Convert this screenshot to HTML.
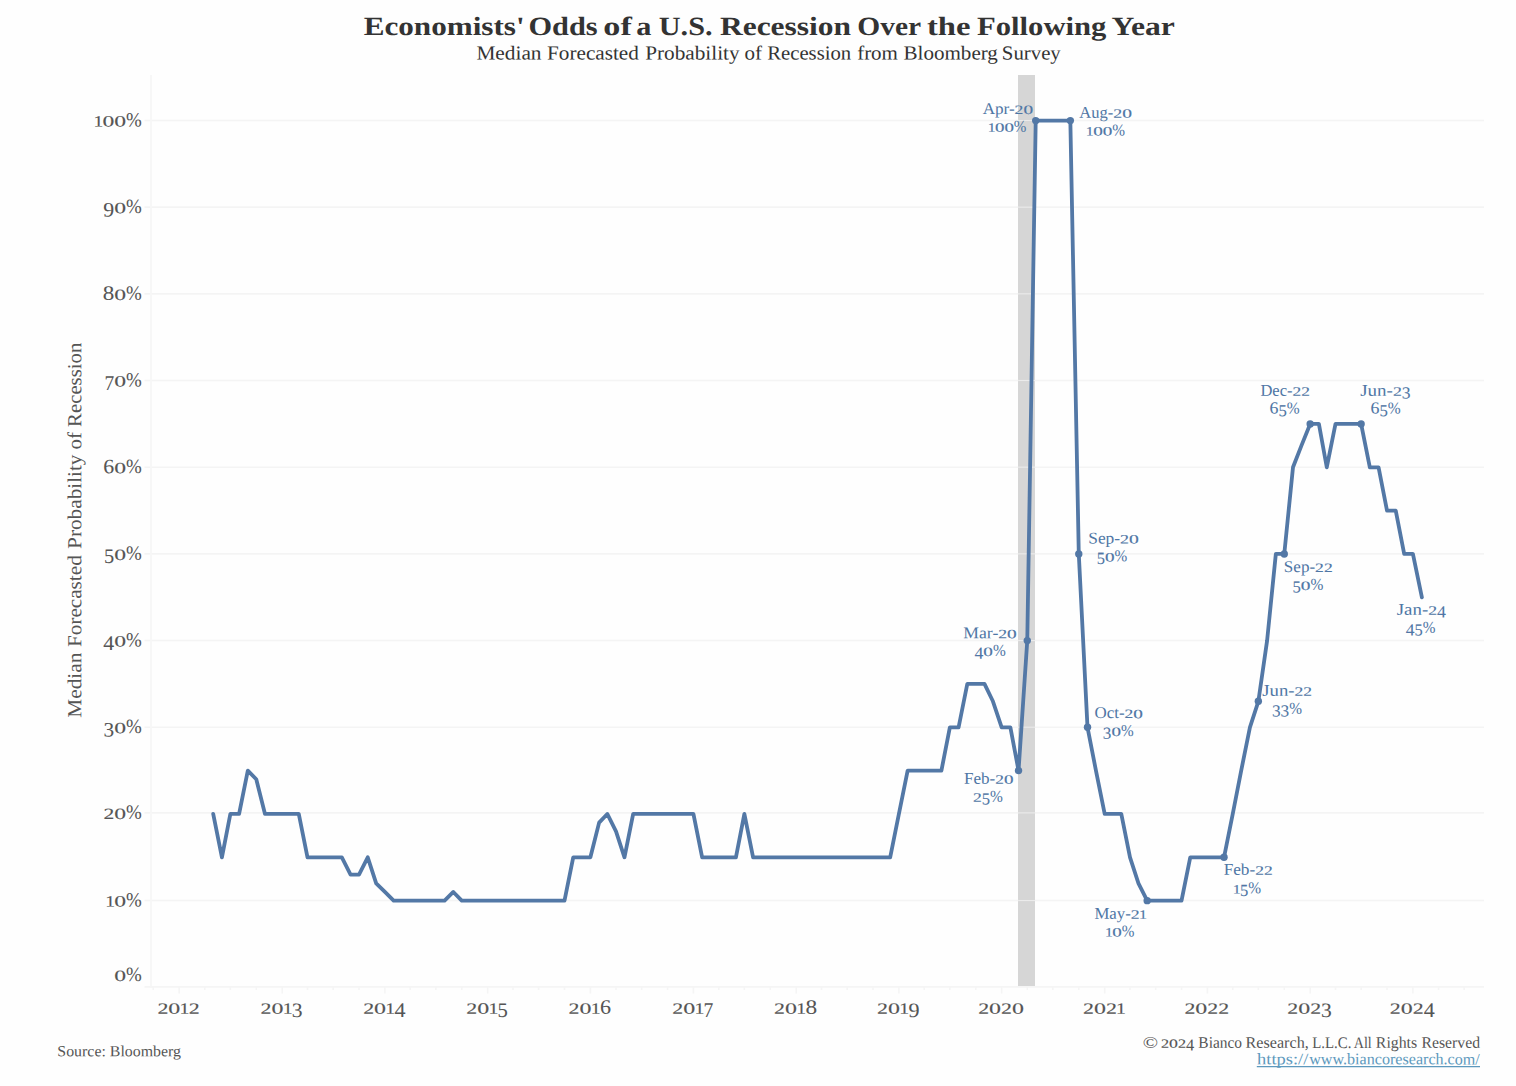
<!DOCTYPE html>
<html><head><meta charset="utf-8"><title>Economists' Odds of a U.S. Recession</title>
<style>html,body{margin:0;padding:0;background:#fefefe;}svg{display:block;}text{font-family:"Liberation Serif",serif;white-space:pre;}</style></head>
<body>
<svg width="1516" height="1086" viewBox="0 0 1516 1086" font-family="Liberation Serif, serif">
<rect width="1516" height="1086" fill="#fefefe"/>
<rect x="1018.0" y="75" width="17.0" height="912" fill="#d6d6d6"/>
<line x1="144.5" x2="1018.2" y1="900.53" y2="900.53" stroke="#f4f4f4" stroke-width="1.6"/>
<line x1="1035" x2="1484" y1="900.53" y2="900.53" stroke="#f4f4f4" stroke-width="1.6"/>
<line x1="1018.2" x2="1035" y1="900.53" y2="900.53" stroke="#ebebeb" stroke-width="1.1"/>
<line x1="144.5" x2="1018.2" y1="812.90" y2="812.90" stroke="#f4f4f4" stroke-width="1.6"/>
<line x1="1035" x2="1484" y1="812.90" y2="812.90" stroke="#f4f4f4" stroke-width="1.6"/>
<line x1="1018.2" x2="1035" y1="812.90" y2="812.90" stroke="#ebebeb" stroke-width="1.1"/>
<line x1="144.5" x2="1018.2" y1="727.19" y2="727.19" stroke="#f4f4f4" stroke-width="1.6"/>
<line x1="1035" x2="1484" y1="727.19" y2="727.19" stroke="#f4f4f4" stroke-width="1.6"/>
<line x1="1018.2" x2="1035" y1="727.19" y2="727.19" stroke="#ebebeb" stroke-width="1.1"/>
<line x1="144.5" x2="1018.2" y1="640.52" y2="640.52" stroke="#f4f4f4" stroke-width="1.6"/>
<line x1="1035" x2="1484" y1="640.52" y2="640.52" stroke="#f4f4f4" stroke-width="1.6"/>
<line x1="1018.2" x2="1035" y1="640.52" y2="640.52" stroke="#ebebeb" stroke-width="1.1"/>
<line x1="144.5" x2="1018.2" y1="553.85" y2="553.85" stroke="#f4f4f4" stroke-width="1.6"/>
<line x1="1035" x2="1484" y1="553.85" y2="553.85" stroke="#f4f4f4" stroke-width="1.6"/>
<line x1="1018.2" x2="1035" y1="553.85" y2="553.85" stroke="#ebebeb" stroke-width="1.1"/>
<line x1="144.5" x2="1018.2" y1="467.18" y2="467.18" stroke="#f4f4f4" stroke-width="1.6"/>
<line x1="1035" x2="1484" y1="467.18" y2="467.18" stroke="#f4f4f4" stroke-width="1.6"/>
<line x1="1018.2" x2="1035" y1="467.18" y2="467.18" stroke="#ebebeb" stroke-width="1.1"/>
<line x1="144.5" x2="1018.2" y1="380.51" y2="380.51" stroke="#f4f4f4" stroke-width="1.6"/>
<line x1="1035" x2="1484" y1="380.51" y2="380.51" stroke="#f4f4f4" stroke-width="1.6"/>
<line x1="1018.2" x2="1035" y1="380.51" y2="380.51" stroke="#ebebeb" stroke-width="1.1"/>
<line x1="144.5" x2="1018.2" y1="293.84" y2="293.84" stroke="#f4f4f4" stroke-width="1.6"/>
<line x1="1035" x2="1484" y1="293.84" y2="293.84" stroke="#f4f4f4" stroke-width="1.6"/>
<line x1="1018.2" x2="1035" y1="293.84" y2="293.84" stroke="#ebebeb" stroke-width="1.1"/>
<line x1="144.5" x2="1018.2" y1="207.17" y2="207.17" stroke="#f4f4f4" stroke-width="1.6"/>
<line x1="1035" x2="1484" y1="207.17" y2="207.17" stroke="#f4f4f4" stroke-width="1.6"/>
<line x1="1018.2" x2="1035" y1="207.17" y2="207.17" stroke="#ebebeb" stroke-width="1.1"/>
<line x1="144.5" x2="1018.2" y1="120.50" y2="120.50" stroke="#f4f4f4" stroke-width="1.6"/>
<line x1="1035" x2="1484" y1="120.50" y2="120.50" stroke="#f4f4f4" stroke-width="1.6"/>
<line x1="1018.2" x2="1035" y1="120.50" y2="120.50" stroke="#ebebeb" stroke-width="1.1"/>
<line x1="151" x2="151" y1="75" y2="987.5" stroke="#f7f7f7" stroke-width="1.8"/>
<line x1="144.5" x2="1484" y1="986.8" y2="986.8" stroke="#f5f5f5" stroke-width="1.8"/>
<line x1="153.24" x2="153.24" y1="987" y2="990" stroke="#f5f5f5" stroke-width="1.6"/>
<line x1="179.14" x2="179.14" y1="987" y2="993.5" stroke="#f5f5f5" stroke-width="1.6"/>
<line x1="204.76" x2="204.76" y1="987" y2="990" stroke="#f5f5f5" stroke-width="1.6"/>
<line x1="230.37" x2="230.37" y1="987" y2="990" stroke="#f5f5f5" stroke-width="1.6"/>
<line x1="256.27" x2="256.27" y1="987" y2="990" stroke="#f5f5f5" stroke-width="1.6"/>
<line x1="282.17" x2="282.17" y1="987" y2="993.5" stroke="#f5f5f5" stroke-width="1.6"/>
<line x1="307.50" x2="307.50" y1="987" y2="990" stroke="#f5f5f5" stroke-width="1.6"/>
<line x1="333.12" x2="333.12" y1="987" y2="990" stroke="#f5f5f5" stroke-width="1.6"/>
<line x1="359.01" x2="359.01" y1="987" y2="990" stroke="#f5f5f5" stroke-width="1.6"/>
<line x1="384.91" x2="384.91" y1="987" y2="993.5" stroke="#f5f5f5" stroke-width="1.6"/>
<line x1="410.24" x2="410.24" y1="987" y2="990" stroke="#f5f5f5" stroke-width="1.6"/>
<line x1="435.86" x2="435.86" y1="987" y2="990" stroke="#f5f5f5" stroke-width="1.6"/>
<line x1="461.76" x2="461.76" y1="987" y2="990" stroke="#f5f5f5" stroke-width="1.6"/>
<line x1="487.65" x2="487.65" y1="987" y2="993.5" stroke="#f5f5f5" stroke-width="1.6"/>
<line x1="512.99" x2="512.99" y1="987" y2="990" stroke="#f5f5f5" stroke-width="1.6"/>
<line x1="538.60" x2="538.60" y1="987" y2="990" stroke="#f5f5f5" stroke-width="1.6"/>
<line x1="564.50" x2="564.50" y1="987" y2="990" stroke="#f5f5f5" stroke-width="1.6"/>
<line x1="590.40" x2="590.40" y1="987" y2="993.5" stroke="#f5f5f5" stroke-width="1.6"/>
<line x1="616.01" x2="616.01" y1="987" y2="990" stroke="#f5f5f5" stroke-width="1.6"/>
<line x1="641.63" x2="641.63" y1="987" y2="990" stroke="#f5f5f5" stroke-width="1.6"/>
<line x1="667.53" x2="667.53" y1="987" y2="990" stroke="#f5f5f5" stroke-width="1.6"/>
<line x1="693.42" x2="693.42" y1="987" y2="993.5" stroke="#f5f5f5" stroke-width="1.6"/>
<line x1="718.76" x2="718.76" y1="987" y2="990" stroke="#f5f5f5" stroke-width="1.6"/>
<line x1="744.37" x2="744.37" y1="987" y2="990" stroke="#f5f5f5" stroke-width="1.6"/>
<line x1="770.27" x2="770.27" y1="987" y2="990" stroke="#f5f5f5" stroke-width="1.6"/>
<line x1="796.17" x2="796.17" y1="987" y2="993.5" stroke="#f5f5f5" stroke-width="1.6"/>
<line x1="821.50" x2="821.50" y1="987" y2="990" stroke="#f5f5f5" stroke-width="1.6"/>
<line x1="847.12" x2="847.12" y1="987" y2="990" stroke="#f5f5f5" stroke-width="1.6"/>
<line x1="873.01" x2="873.01" y1="987" y2="990" stroke="#f5f5f5" stroke-width="1.6"/>
<line x1="898.91" x2="898.91" y1="987" y2="993.5" stroke="#f5f5f5" stroke-width="1.6"/>
<line x1="924.24" x2="924.24" y1="987" y2="990" stroke="#f5f5f5" stroke-width="1.6"/>
<line x1="949.86" x2="949.86" y1="987" y2="990" stroke="#f5f5f5" stroke-width="1.6"/>
<line x1="975.76" x2="975.76" y1="987" y2="990" stroke="#f5f5f5" stroke-width="1.6"/>
<line x1="1001.65" x2="1001.65" y1="987" y2="993.5" stroke="#f5f5f5" stroke-width="1.6"/>
<line x1="1027.27" x2="1027.27" y1="987" y2="990" stroke="#f5f5f5" stroke-width="1.6"/>
<line x1="1052.88" x2="1052.88" y1="987" y2="990" stroke="#f5f5f5" stroke-width="1.6"/>
<line x1="1078.78" x2="1078.78" y1="987" y2="990" stroke="#f5f5f5" stroke-width="1.6"/>
<line x1="1104.68" x2="1104.68" y1="987" y2="993.5" stroke="#f5f5f5" stroke-width="1.6"/>
<line x1="1130.01" x2="1130.01" y1="987" y2="990" stroke="#f5f5f5" stroke-width="1.6"/>
<line x1="1155.63" x2="1155.63" y1="987" y2="990" stroke="#f5f5f5" stroke-width="1.6"/>
<line x1="1181.53" x2="1181.53" y1="987" y2="990" stroke="#f5f5f5" stroke-width="1.6"/>
<line x1="1207.42" x2="1207.42" y1="987" y2="993.5" stroke="#f5f5f5" stroke-width="1.6"/>
<line x1="1232.76" x2="1232.76" y1="987" y2="990" stroke="#f5f5f5" stroke-width="1.6"/>
<line x1="1258.37" x2="1258.37" y1="987" y2="990" stroke="#f5f5f5" stroke-width="1.6"/>
<line x1="1284.27" x2="1284.27" y1="987" y2="990" stroke="#f5f5f5" stroke-width="1.6"/>
<line x1="1310.17" x2="1310.17" y1="987" y2="993.5" stroke="#f5f5f5" stroke-width="1.6"/>
<line x1="1335.50" x2="1335.50" y1="987" y2="990" stroke="#f5f5f5" stroke-width="1.6"/>
<line x1="1361.12" x2="1361.12" y1="987" y2="990" stroke="#f5f5f5" stroke-width="1.6"/>
<line x1="1387.01" x2="1387.01" y1="987" y2="990" stroke="#f5f5f5" stroke-width="1.6"/>
<line x1="1412.91" x2="1412.91" y1="987" y2="993.5" stroke="#f5f5f5" stroke-width="1.6"/>
<line x1="1438.53" x2="1438.53" y1="987" y2="990" stroke="#f5f5f5" stroke-width="1.6"/>
<line x1="1464.14" x2="1464.14" y1="987" y2="990" stroke="#f5f5f5" stroke-width="1.6"/>
<path d="M213.20,813.96 L221.93,857.29 L230.37,813.96 L239.10,813.96 L247.82,770.62 L256.27,779.29 L264.99,813.96 L273.44,813.96 L282.17,813.96 L290.89,813.96 L298.77,813.96 L307.50,857.29 L315.94,857.29 L324.67,857.29 L333.12,857.29 L341.84,857.29 L350.57,874.63 L359.01,874.63 L367.74,857.29 L376.18,883.30 L384.91,891.96 L393.64,900.63 L401.52,900.63 L410.24,900.63 L418.69,900.63 L427.41,900.63 L435.86,900.63 L444.59,900.63 L453.31,891.96 L461.76,900.63 L470.48,900.63 L478.93,900.63 L487.65,900.63 L496.38,900.63 L504.26,900.63 L512.99,900.63 L521.43,900.63 L530.16,900.63 L538.60,900.63 L547.33,900.63 L556.06,900.63 L564.50,900.63 L573.23,857.29 L581.67,857.29 L590.40,857.29 L599.12,822.63 L607.29,813.96 L616.01,831.29 L624.46,857.29 L633.18,813.96 L641.63,813.96 L650.35,813.96 L659.08,813.96 L667.53,813.96 L676.25,813.96 L684.70,813.96 L693.42,813.96 L702.15,857.29 L710.03,857.29 L718.76,857.29 L727.20,857.29 L735.93,857.29 L744.37,813.96 L753.10,857.29 L761.82,857.29 L770.27,857.29 L779.00,857.29 L787.44,857.29 L796.17,857.29 L804.89,857.29 L812.77,857.29 L821.50,857.29 L829.94,857.29 L838.67,857.29 L847.12,857.29 L855.84,857.29 L864.57,857.29 L873.01,857.29 L881.74,857.29 L890.18,857.29 L898.91,813.96 L907.64,770.62 L915.52,770.62 L924.24,770.62 L932.69,770.62 L941.41,770.62 L949.86,727.29 L958.59,727.29 L967.31,683.95 L975.76,683.95 L984.48,683.95 L992.93,701.29 L1001.65,727.29 L1010.38,727.29 L1018.54,770.62 L1027.27,640.62 L1035.71,120.60 L1044.44,120.60 L1052.88,120.60 L1061.61,120.60 L1070.34,120.60 L1078.78,553.95 L1087.51,727.29 L1095.95,770.62 L1104.68,813.96 L1113.41,813.96 L1121.29,813.96 L1130.01,857.29 L1138.46,883.30 L1147.18,900.63 L1155.63,900.63 L1164.36,900.63 L1173.08,900.63 L1181.53,900.63 L1190.25,857.29 L1198.70,857.29 L1207.42,857.29 L1216.15,857.29 L1224.03,857.29 L1232.76,813.96 L1241.20,770.62 L1249.93,727.29 L1258.37,701.29 L1267.10,640.62 L1275.83,553.95 L1284.27,553.95 L1293.00,467.28 L1301.44,445.61 L1310.17,423.94 L1318.89,423.94 L1326.77,467.28 L1335.50,423.94 L1343.95,423.94 L1352.67,423.94 L1361.12,423.94 L1369.84,467.28 L1378.57,467.28 L1387.01,510.61 L1395.74,510.61 L1404.18,553.95 L1412.91,553.95 L1421.90,597.28" fill="none" stroke="#5378a6" stroke-width="3.8" stroke-linejoin="round" stroke-linecap="round"/>
<circle cx="1018.54" cy="770.62" r="3.7" fill="#5378a6"/>
<circle cx="1027.27" cy="640.62" r="3.7" fill="#5378a6"/>
<circle cx="1035.71" cy="120.60" r="3.7" fill="#5378a6"/>
<circle cx="1070.34" cy="120.60" r="3.7" fill="#5378a6"/>
<circle cx="1078.78" cy="553.95" r="3.7" fill="#5378a6"/>
<circle cx="1087.51" cy="727.29" r="3.7" fill="#5378a6"/>
<circle cx="1147.18" cy="900.63" r="3.7" fill="#5378a6"/>
<circle cx="1224.03" cy="857.29" r="3.7" fill="#5378a6"/>
<circle cx="1258.37" cy="701.29" r="3.7" fill="#5378a6"/>
<circle cx="1284.27" cy="553.95" r="3.7" fill="#5378a6"/>
<circle cx="1310.17" cy="423.94" r="3.7" fill="#5378a6"/>
<circle cx="1361.12" cy="423.94" r="3.7" fill="#5378a6"/>
<text transform="translate(363.67,35.00) rotate(0.03)" font-size="26.30" fill="#333333" font-weight="bold" textLength="160.99" lengthAdjust="spacingAndGlyphs" >Economists'</text>
<text transform="translate(528.52,35.00) rotate(0.03)" font-size="26.30" fill="#333333" font-weight="bold" textLength="69.12" lengthAdjust="spacingAndGlyphs" >Odds</text>
<text transform="translate(603.30,35.00) rotate(0.03)" font-size="26.30" fill="#333333" font-weight="bold" textLength="28.47" lengthAdjust="spacingAndGlyphs" >of</text>
<text transform="translate(636.22,35.00) rotate(0.03)" font-size="26.30" fill="#333333" font-weight="bold" textLength="15.13" lengthAdjust="spacingAndGlyphs" >a</text>
<text transform="translate(658.75,35.00) rotate(0.03)" font-size="26.30" fill="#333333" font-weight="bold" textLength="53.78" lengthAdjust="spacingAndGlyphs" >U.S.</text>
<text transform="translate(719.96,35.00) rotate(0.03)" font-size="26.30" fill="#333333" font-weight="bold" textLength="131.11" lengthAdjust="spacingAndGlyphs" >Recession</text>
<text transform="translate(857.26,35.00) rotate(0.03)" font-size="26.30" fill="#333333" font-weight="bold" textLength="63.77" lengthAdjust="spacingAndGlyphs" >Over</text>
<text transform="translate(926.97,35.00) rotate(0.03)" font-size="26.30" fill="#333333" font-weight="bold" textLength="43.57" lengthAdjust="spacingAndGlyphs" >the</text>
<text transform="translate(976.98,35.00) rotate(0.03)" font-size="26.30" fill="#333333" font-weight="bold" textLength="129.42" lengthAdjust="spacingAndGlyphs" >Following</text>
<text transform="translate(1111.57,35.00) rotate(0.03)" font-size="26.30" fill="#333333" font-weight="bold" textLength="63.27" lengthAdjust="spacingAndGlyphs" >Year</text>
<text transform="translate(476.39,59.40) rotate(0.03)" font-size="19.90" fill="#333333" textLength="65.14" lengthAdjust="spacingAndGlyphs" >Median</text>
<text transform="translate(547.09,59.40) rotate(0.03)" font-size="19.90" fill="#333333" textLength="91.77" lengthAdjust="spacingAndGlyphs" >Forecasted</text>
<text transform="translate(645.19,59.40) rotate(0.03)" font-size="19.90" fill="#333333" textLength="94.39" lengthAdjust="spacingAndGlyphs" >Probability</text>
<text transform="translate(744.60,59.40) rotate(0.03)" font-size="19.90" fill="#333333" textLength="17.50" lengthAdjust="spacingAndGlyphs" >of</text>
<text transform="translate(767.20,59.40) rotate(0.03)" font-size="19.90" fill="#333333" textLength="84.01" lengthAdjust="spacingAndGlyphs" >Recession</text>
<text transform="translate(857.15,59.40) rotate(0.03)" font-size="19.90" fill="#333333" textLength="40.77" lengthAdjust="spacingAndGlyphs" >from</text>
<text transform="translate(903.50,59.40) rotate(0.03)" font-size="19.90" fill="#333333" textLength="94.40" lengthAdjust="spacingAndGlyphs" >Bloomberg</text>
<text transform="translate(1001.81,59.40) rotate(0.03)" font-size="19.90" fill="#333333" textLength="58.97" lengthAdjust="spacingAndGlyphs" >Survey</text>
<g transform="translate(81.3,717.1) rotate(-90)">
<text transform="translate(-0.61,0.00) rotate(0.03)" font-size="19.90" fill="#555555" textLength="65.14" lengthAdjust="spacingAndGlyphs" >Median</text>
<text transform="translate(70.09,0.00) rotate(0.03)" font-size="19.90" fill="#555555" textLength="91.77" lengthAdjust="spacingAndGlyphs" >Forecasted</text>
<text transform="translate(168.19,0.00) rotate(0.03)" font-size="19.90" fill="#555555" textLength="94.39" lengthAdjust="spacingAndGlyphs" >Probability</text>
<text transform="translate(267.60,0.00) rotate(0.03)" font-size="19.90" fill="#555555" textLength="17.50" lengthAdjust="spacingAndGlyphs" >of</text>
<text transform="translate(290.20,0.00) rotate(0.03)" font-size="19.90" fill="#555555" textLength="84.21" lengthAdjust="spacingAndGlyphs" >Recession</text>
</g>
<text transform="translate(114.27,981.04) rotate(0.03) scale(1.187,0.783)" font-size="19.95" fill="#555555" stroke="#555555" stroke-width="0.16" font-weight="normal" >0</text>
<text transform="translate(126.11,980.92) rotate(0.03) scale(0.948,1.018)" font-size="19.95" fill="#555555" stroke="#555555" stroke-width="0.06" font-weight="normal" >%</text>
<text transform="translate(105.25,906.53) rotate(0.03) scale(0.979,0.786)" font-size="19.95" fill="#555555" stroke="#555555" stroke-width="0.16" font-weight="normal" >1</text>
<text transform="translate(114.27,906.57) rotate(0.03) scale(1.187,0.783)" font-size="19.95" fill="#555555" stroke="#555555" stroke-width="0.16" font-weight="normal" >0</text>
<text transform="translate(126.11,906.45) rotate(0.03) scale(0.948,1.018)" font-size="19.95" fill="#555555" stroke="#555555" stroke-width="0.06" font-weight="normal" >%</text>
<text transform="translate(103.48,818.90) rotate(0.03) scale(1.081,0.784)" font-size="19.95" fill="#555555" stroke="#555555" stroke-width="0.16" font-weight="normal" >2</text>
<text transform="translate(114.26,818.94) rotate(0.03) scale(1.187,0.783)" font-size="19.95" fill="#555555" stroke="#555555" stroke-width="0.16" font-weight="normal" >0</text>
<text transform="translate(126.11,818.82) rotate(0.03) scale(0.948,1.018)" font-size="19.95" fill="#555555" stroke="#555555" stroke-width="0.06" font-weight="normal" >%</text>
<text transform="translate(103.62,736.41) rotate(0.03) scale(1.068,1.028)" font-size="19.95" fill="#555555" stroke="#555555" stroke-width="0.06" font-weight="normal" >3</text>
<text transform="translate(114.26,733.23) rotate(0.03) scale(1.187,0.783)" font-size="19.95" fill="#555555" stroke="#555555" stroke-width="0.16" font-weight="normal" >0</text>
<text transform="translate(126.11,733.11) rotate(0.03) scale(0.948,1.018)" font-size="19.95" fill="#555555" stroke="#555555" stroke-width="0.06" font-weight="normal" >%</text>
<text transform="translate(103.37,649.94) rotate(0.03) scale(1.093,1.049)" font-size="19.95" fill="#555555" stroke="#555555" stroke-width="0.06" font-weight="normal" >4</text>
<text transform="translate(114.26,646.56) rotate(0.03) scale(1.187,0.783)" font-size="19.95" fill="#555555" stroke="#555555" stroke-width="0.16" font-weight="normal" >0</text>
<text transform="translate(126.11,646.44) rotate(0.03) scale(0.948,1.018)" font-size="19.95" fill="#555555" stroke="#555555" stroke-width="0.06" font-weight="normal" >%</text>
<text transform="translate(104.08,563.07) rotate(0.03) scale(1.021,1.039)" font-size="19.95" fill="#555555" stroke="#555555" stroke-width="0.06" font-weight="normal" >5</text>
<text transform="translate(114.26,559.89) rotate(0.03) scale(1.187,0.783)" font-size="19.95" fill="#555555" stroke="#555555" stroke-width="0.16" font-weight="normal" >0</text>
<text transform="translate(126.11,559.77) rotate(0.03) scale(0.948,1.018)" font-size="19.95" fill="#555555" stroke="#555555" stroke-width="0.06" font-weight="normal" >%</text>
<text transform="translate(103.35,473.17) rotate(0.03) scale(1.095,1.028)" font-size="19.95" fill="#555555" stroke="#555555" stroke-width="0.06" font-weight="normal" >6</text>
<text transform="translate(114.26,473.22) rotate(0.03) scale(1.187,0.783)" font-size="19.95" fill="#555555" stroke="#555555" stroke-width="0.16" font-weight="normal" >0</text>
<text transform="translate(126.11,473.10) rotate(0.03) scale(0.948,1.018)" font-size="19.95" fill="#555555" stroke="#555555" stroke-width="0.06" font-weight="normal" >%</text>
<text transform="translate(104.58,389.93) rotate(0.03) scale(0.971,1.055)" font-size="19.95" fill="#555555" stroke="#555555" stroke-width="0.06" font-weight="normal" >7</text>
<text transform="translate(114.27,386.55) rotate(0.03) scale(1.187,0.783)" font-size="19.95" fill="#555555" stroke="#555555" stroke-width="0.16" font-weight="normal" >0</text>
<text transform="translate(126.11,386.43) rotate(0.03) scale(0.948,1.018)" font-size="19.95" fill="#555555" stroke="#555555" stroke-width="0.06" font-weight="normal" >%</text>
<text transform="translate(102.77,299.83) rotate(0.03) scale(1.153,1.023)" font-size="19.95" fill="#555555" stroke="#555555" stroke-width="0.06" font-weight="normal" >8</text>
<text transform="translate(114.26,299.88) rotate(0.03) scale(1.187,0.783)" font-size="19.95" fill="#555555" stroke="#555555" stroke-width="0.16" font-weight="normal" >0</text>
<text transform="translate(126.11,299.76) rotate(0.03) scale(0.948,1.018)" font-size="19.95" fill="#555555" stroke="#555555" stroke-width="0.06" font-weight="normal" >%</text>
<text transform="translate(103.35,216.39) rotate(0.03) scale(1.095,1.028)" font-size="19.95" fill="#555555" stroke="#555555" stroke-width="0.06" font-weight="normal" >9</text>
<text transform="translate(114.26,213.21) rotate(0.03) scale(1.187,0.783)" font-size="19.95" fill="#555555" stroke="#555555" stroke-width="0.16" font-weight="normal" >0</text>
<text transform="translate(126.11,213.09) rotate(0.03) scale(0.948,1.018)" font-size="19.95" fill="#555555" stroke="#555555" stroke-width="0.06" font-weight="normal" >%</text>
<text transform="translate(93.39,126.50) rotate(0.03) scale(0.979,0.786)" font-size="19.95" fill="#555555" stroke="#555555" stroke-width="0.16" font-weight="normal" >1</text>
<text transform="translate(102.42,126.54) rotate(0.03) scale(1.188,0.783)" font-size="19.95" fill="#555555" stroke="#555555" stroke-width="0.16" font-weight="normal" >0</text>
<text transform="translate(114.26,126.54) rotate(0.03) scale(1.188,0.783)" font-size="19.95" fill="#555555" stroke="#555555" stroke-width="0.16" font-weight="normal" >0</text>
<text transform="translate(126.11,126.42) rotate(0.03) scale(0.948,1.018)" font-size="19.95" fill="#555555" stroke="#555555" stroke-width="0.06" font-weight="normal" >%</text>
<text transform="translate(157.42,1013.70) rotate(0.03) scale(1.096,0.784)" font-size="19.95" fill="#555555" stroke="#555555" stroke-width="0.16" font-weight="normal" >2</text>
<text transform="translate(168.34,1013.74) rotate(0.03) scale(1.203,0.783)" font-size="19.95" fill="#555555" stroke="#555555" stroke-width="0.16" font-weight="normal" >0</text>
<text transform="translate(179.59,1013.70) rotate(0.03) scale(0.992,0.786)" font-size="19.95" fill="#555555" stroke="#555555" stroke-width="0.16" font-weight="normal" >1</text>
<text transform="translate(188.74,1013.70) rotate(0.03) scale(1.096,0.784)" font-size="19.95" fill="#555555" stroke="#555555" stroke-width="0.16" font-weight="normal" >2</text>
<text transform="translate(260.51,1013.70) rotate(0.03) scale(1.096,0.784)" font-size="19.95" fill="#555555" stroke="#555555" stroke-width="0.16" font-weight="normal" >2</text>
<text transform="translate(271.44,1013.74) rotate(0.03) scale(1.203,0.783)" font-size="19.95" fill="#555555" stroke="#555555" stroke-width="0.16" font-weight="normal" >0</text>
<text transform="translate(282.69,1013.70) rotate(0.03) scale(0.992,0.786)" font-size="19.95" fill="#555555" stroke="#555555" stroke-width="0.16" font-weight="normal" >1</text>
<text transform="translate(291.83,1016.92) rotate(0.03) scale(1.082,1.028)" font-size="19.95" fill="#555555" stroke="#555555" stroke-width="0.06" font-weight="normal" >3</text>
<text transform="translate(363.13,1013.70) rotate(0.03) scale(1.096,0.784)" font-size="19.95" fill="#555555" stroke="#555555" stroke-width="0.16" font-weight="normal" >2</text>
<text transform="translate(374.06,1013.74) rotate(0.03) scale(1.203,0.783)" font-size="19.95" fill="#555555" stroke="#555555" stroke-width="0.16" font-weight="normal" >0</text>
<text transform="translate(385.30,1013.70) rotate(0.03) scale(0.992,0.786)" font-size="19.95" fill="#555555" stroke="#555555" stroke-width="0.16" font-weight="normal" >1</text>
<text transform="translate(394.45,1017.12) rotate(0.03) scale(1.107,1.049)" font-size="19.95" fill="#555555" stroke="#555555" stroke-width="0.06" font-weight="normal" >4</text>
<text transform="translate(466.23,1013.70) rotate(0.03) scale(1.096,0.784)" font-size="19.95" fill="#555555" stroke="#555555" stroke-width="0.16" font-weight="normal" >2</text>
<text transform="translate(477.16,1013.74) rotate(0.03) scale(1.204,0.783)" font-size="19.95" fill="#555555" stroke="#555555" stroke-width="0.16" font-weight="normal" >0</text>
<text transform="translate(488.41,1013.70) rotate(0.03) scale(0.992,0.786)" font-size="19.95" fill="#555555" stroke="#555555" stroke-width="0.16" font-weight="normal" >1</text>
<text transform="translate(497.55,1016.92) rotate(0.03) scale(1.035,1.039)" font-size="19.95" fill="#555555" stroke="#555555" stroke-width="0.06" font-weight="normal" >5</text>
<text transform="translate(568.61,1013.70) rotate(0.03) scale(1.096,0.784)" font-size="19.95" fill="#555555" stroke="#555555" stroke-width="0.16" font-weight="normal" >2</text>
<text transform="translate(579.53,1013.74) rotate(0.03) scale(1.203,0.783)" font-size="19.95" fill="#555555" stroke="#555555" stroke-width="0.16" font-weight="normal" >0</text>
<text transform="translate(590.78,1013.70) rotate(0.03) scale(0.992,0.786)" font-size="19.95" fill="#555555" stroke="#555555" stroke-width="0.16" font-weight="normal" >1</text>
<text transform="translate(599.92,1013.69) rotate(0.03) scale(1.109,1.028)" font-size="19.95" fill="#555555" stroke="#555555" stroke-width="0.06" font-weight="normal" >6</text>
<text transform="translate(672.25,1013.70) rotate(0.03) scale(1.096,0.784)" font-size="19.95" fill="#555555" stroke="#555555" stroke-width="0.16" font-weight="normal" >2</text>
<text transform="translate(683.18,1013.74) rotate(0.03) scale(1.204,0.783)" font-size="19.95" fill="#555555" stroke="#555555" stroke-width="0.16" font-weight="normal" >0</text>
<text transform="translate(694.43,1013.70) rotate(0.03) scale(0.992,0.786)" font-size="19.95" fill="#555555" stroke="#555555" stroke-width="0.16" font-weight="normal" >1</text>
<text transform="translate(703.58,1017.12) rotate(0.03) scale(0.984,1.055)" font-size="19.95" fill="#555555" stroke="#555555" stroke-width="0.06" font-weight="normal" >7</text>
<text transform="translate(774.09,1013.70) rotate(0.03) scale(1.095,0.784)" font-size="19.95" fill="#555555" stroke="#555555" stroke-width="0.16" font-weight="normal" >2</text>
<text transform="translate(785.01,1013.74) rotate(0.03) scale(1.203,0.783)" font-size="19.95" fill="#555555" stroke="#555555" stroke-width="0.16" font-weight="normal" >0</text>
<text transform="translate(796.26,1013.70) rotate(0.03) scale(0.992,0.786)" font-size="19.95" fill="#555555" stroke="#555555" stroke-width="0.16" font-weight="normal" >1</text>
<text transform="translate(805.40,1013.69) rotate(0.03) scale(1.168,1.023)" font-size="19.95" fill="#555555" stroke="#555555" stroke-width="0.06" font-weight="normal" >8</text>
<text transform="translate(877.12,1013.70) rotate(0.03) scale(1.096,0.784)" font-size="19.95" fill="#555555" stroke="#555555" stroke-width="0.16" font-weight="normal" >2</text>
<text transform="translate(888.05,1013.74) rotate(0.03) scale(1.203,0.783)" font-size="19.95" fill="#555555" stroke="#555555" stroke-width="0.16" font-weight="normal" >0</text>
<text transform="translate(899.30,1013.70) rotate(0.03) scale(0.992,0.786)" font-size="19.95" fill="#555555" stroke="#555555" stroke-width="0.16" font-weight="normal" >1</text>
<text transform="translate(908.44,1016.92) rotate(0.03) scale(1.109,1.028)" font-size="19.95" fill="#555555" stroke="#555555" stroke-width="0.06" font-weight="normal" >9</text>
<text transform="translate(978.14,1013.70) rotate(0.03) scale(1.094,0.784)" font-size="19.95" fill="#555555" stroke="#555555" stroke-width="0.16" font-weight="normal" >2</text>
<text transform="translate(989.06,1013.74) rotate(0.03) scale(1.202,0.783)" font-size="19.95" fill="#555555" stroke="#555555" stroke-width="0.16" font-weight="normal" >0</text>
<text transform="translate(1001.05,1013.70) rotate(0.03) scale(1.094,0.784)" font-size="19.95" fill="#555555" stroke="#555555" stroke-width="0.16" font-weight="normal" >2</text>
<text transform="translate(1011.97,1013.74) rotate(0.03) scale(1.202,0.783)" font-size="19.95" fill="#555555" stroke="#555555" stroke-width="0.16" font-weight="normal" >0</text>
<text transform="translate(1082.96,1013.70) rotate(0.03) scale(1.096,0.784)" font-size="19.95" fill="#555555" stroke="#555555" stroke-width="0.16" font-weight="normal" >2</text>
<text transform="translate(1093.88,1013.74) rotate(0.03) scale(1.203,0.783)" font-size="19.95" fill="#555555" stroke="#555555" stroke-width="0.16" font-weight="normal" >0</text>
<text transform="translate(1105.89,1013.70) rotate(0.03) scale(1.096,0.784)" font-size="19.95" fill="#555555" stroke="#555555" stroke-width="0.16" font-weight="normal" >2</text>
<text transform="translate(1116.06,1013.70) rotate(0.03) scale(0.992,0.786)" font-size="19.95" fill="#555555" stroke="#555555" stroke-width="0.16" font-weight="normal" >1</text>
<text transform="translate(1184.44,1013.70) rotate(0.03) scale(1.095,0.784)" font-size="19.95" fill="#555555" stroke="#555555" stroke-width="0.16" font-weight="normal" >2</text>
<text transform="translate(1195.37,1013.74) rotate(0.03) scale(1.202,0.783)" font-size="19.95" fill="#555555" stroke="#555555" stroke-width="0.16" font-weight="normal" >0</text>
<text transform="translate(1207.36,1013.70) rotate(0.03) scale(1.095,0.784)" font-size="19.95" fill="#555555" stroke="#555555" stroke-width="0.16" font-weight="normal" >2</text>
<text transform="translate(1218.28,1013.70) rotate(0.03) scale(1.095,0.784)" font-size="19.95" fill="#555555" stroke="#555555" stroke-width="0.16" font-weight="normal" >2</text>
<text transform="translate(1287.26,1013.70) rotate(0.03) scale(1.095,0.784)" font-size="19.95" fill="#555555" stroke="#555555" stroke-width="0.16" font-weight="normal" >2</text>
<text transform="translate(1298.18,1013.74) rotate(0.03) scale(1.203,0.783)" font-size="19.95" fill="#555555" stroke="#555555" stroke-width="0.16" font-weight="normal" >0</text>
<text transform="translate(1310.17,1013.70) rotate(0.03) scale(1.095,0.784)" font-size="19.95" fill="#555555" stroke="#555555" stroke-width="0.16" font-weight="normal" >2</text>
<text transform="translate(1321.09,1016.92) rotate(0.03) scale(1.081,1.028)" font-size="19.95" fill="#555555" stroke="#555555" stroke-width="0.06" font-weight="normal" >3</text>
<text transform="translate(1389.87,1013.70) rotate(0.03) scale(1.095,0.784)" font-size="19.95" fill="#555555" stroke="#555555" stroke-width="0.16" font-weight="normal" >2</text>
<text transform="translate(1400.79,1013.74) rotate(0.03) scale(1.202,0.783)" font-size="19.95" fill="#555555" stroke="#555555" stroke-width="0.16" font-weight="normal" >0</text>
<text transform="translate(1412.79,1013.70) rotate(0.03) scale(1.095,0.784)" font-size="19.95" fill="#555555" stroke="#555555" stroke-width="0.16" font-weight="normal" >2</text>
<text transform="translate(1423.71,1017.12) rotate(0.03) scale(1.106,1.049)" font-size="19.95" fill="#555555" stroke="#555555" stroke-width="0.06" font-weight="normal" >4</text>
<text transform="translate(57.36,1056.20) rotate(0.03)" font-size="15.44" fill="#555555" font-weight="normal" textLength="123.58" lengthAdjust="spacingAndGlyphs" >Source: Bloomberg</text>
<text transform="translate(1142.73,1047.70) rotate(0.03)" font-size="16.07" fill="#555555" textLength="15.31" lengthAdjust="spacingAndGlyphs" >©</text>
<text transform="translate(1198.36,1047.70) rotate(0.03)" font-size="16.07" fill="#555555" textLength="43.73" lengthAdjust="spacingAndGlyphs" >Bianco</text>
<text transform="translate(1245.53,1047.70) rotate(0.03)" font-size="16.07" fill="#555555" textLength="63.28" lengthAdjust="spacingAndGlyphs" >Research,</text>
<text transform="translate(1312.27,1047.70) rotate(0.03)" font-size="16.07" fill="#555555" textLength="39.10" lengthAdjust="spacingAndGlyphs" >L.L.C.</text>
<text transform="translate(1353.76,1047.70) rotate(0.03)" font-size="16.07" fill="#555555" textLength="18.02" lengthAdjust="spacingAndGlyphs" >All</text>
<text transform="translate(1375.84,1047.70) rotate(0.03)" font-size="16.07" fill="#555555" textLength="41.33" lengthAdjust="spacingAndGlyphs" >Rights</text>
<text transform="translate(1421.55,1047.70) rotate(0.03)" font-size="16.07" fill="#555555" textLength="58.44" lengthAdjust="spacingAndGlyphs" >Reserved</text>
<text transform="translate(1160.94,1047.70) rotate(0.03) scale(1.009,0.784)" font-size="16.07" fill="#555555" stroke="#555555" stroke-width="0.16" font-weight="normal" >2</text>
<text transform="translate(1169.05,1047.73) rotate(0.03) scale(1.109,0.783)" font-size="16.07" fill="#555555" stroke="#555555" stroke-width="0.16" font-weight="normal" >0</text>
<text transform="translate(1177.96,1047.70) rotate(0.03) scale(1.009,0.784)" font-size="16.07" fill="#555555" stroke="#555555" stroke-width="0.16" font-weight="normal" >2</text>
<text transform="translate(1186.06,1050.45) rotate(0.03) scale(1.020,1.049)" font-size="16.07" fill="#555555" stroke="#555555" stroke-width="0.06" font-weight="normal" >4</text>
<text transform="translate(1257.12,1064.30) rotate(0.03)" font-size="16.07" fill="#5d99bd" textLength="51.18" lengthAdjust="spacingAndGlyphs" >https://</text>
<text transform="translate(1309.18,1064.30) rotate(0.03)" font-size="16.07" fill="#5d99bd" textLength="170.62" lengthAdjust="spacingAndGlyphs" >www.biancoresearch.com/</text>
<line x1="1256.8" x2="1480" y1="1066.6" y2="1066.6" stroke="#5d99bd" stroke-width="1.1"/>
<text transform="translate(982.63,114.00) rotate(0.03)" font-size="16.38" fill="#4f76a5" font-weight="normal" textLength="31.95" lengthAdjust="spacingAndGlyphs" >Apr-</text>
<text transform="translate(1014.58,114.00) rotate(0.03) scale(1.076,0.784)" font-size="16.38" fill="#4f76a5" stroke="#4f76a5" stroke-width="0.16" font-weight="normal" >2</text>
<text transform="translate(1023.39,114.03) rotate(0.03) scale(1.182,0.783)" font-size="16.38" fill="#4f76a5" stroke="#4f76a5" stroke-width="0.16" font-weight="normal" >0</text>
<text transform="translate(987.74,131.80) rotate(0.03) scale(0.953,0.786)" font-size="16.38" fill="#4f76a5" stroke="#4f76a5" stroke-width="0.16" font-weight="normal" >1</text>
<text transform="translate(994.94,131.83) rotate(0.03) scale(1.156,0.783)" font-size="16.38" fill="#4f76a5" stroke="#4f76a5" stroke-width="0.16" font-weight="normal" >0</text>
<text transform="translate(1004.41,131.83) rotate(0.03) scale(1.156,0.783)" font-size="16.38" fill="#4f76a5" stroke="#4f76a5" stroke-width="0.16" font-weight="normal" >0</text>
<text transform="translate(1013.87,131.74) rotate(0.03) scale(0.923,1.018)" font-size="16.38" fill="#4f76a5" stroke="#4f76a5" stroke-width="0.06" font-weight="normal" >%</text>
<text transform="translate(1079.33,117.70) rotate(0.03)" font-size="16.38" fill="#4f76a5" font-weight="normal" textLength="33.94" lengthAdjust="spacingAndGlyphs" >Aug-</text>
<text transform="translate(1113.27,117.70) rotate(0.03) scale(1.088,0.784)" font-size="16.38" fill="#4f76a5" stroke="#4f76a5" stroke-width="0.16" font-weight="normal" >2</text>
<text transform="translate(1122.18,117.73) rotate(0.03) scale(1.195,0.783)" font-size="16.38" fill="#4f76a5" stroke="#4f76a5" stroke-width="0.16" font-weight="normal" >0</text>
<text transform="translate(1085.83,135.50) rotate(0.03) scale(0.965,0.786)" font-size="16.38" fill="#4f76a5" stroke="#4f76a5" stroke-width="0.16" font-weight="normal" >1</text>
<text transform="translate(1093.13,135.53) rotate(0.03) scale(1.171,0.783)" font-size="16.38" fill="#4f76a5" stroke="#4f76a5" stroke-width="0.16" font-weight="normal" >0</text>
<text transform="translate(1102.72,135.53) rotate(0.03) scale(1.171,0.783)" font-size="16.38" fill="#4f76a5" stroke="#4f76a5" stroke-width="0.16" font-weight="normal" >0</text>
<text transform="translate(1112.31,135.44) rotate(0.03) scale(0.935,1.018)" font-size="16.38" fill="#4f76a5" stroke="#4f76a5" stroke-width="0.06" font-weight="normal" >%</text>
<text transform="translate(1088.23,543.50) rotate(0.03)" font-size="16.38" fill="#4f76a5" font-weight="normal" textLength="31.86" lengthAdjust="spacingAndGlyphs" >Sep-</text>
<text transform="translate(1120.09,543.50) rotate(0.03) scale(1.093,0.784)" font-size="16.38" fill="#4f76a5" stroke="#4f76a5" stroke-width="0.16" font-weight="normal" >2</text>
<text transform="translate(1129.04,543.53) rotate(0.03) scale(1.200,0.783)" font-size="16.38" fill="#4f76a5" stroke="#4f76a5" stroke-width="0.16" font-weight="normal" >0</text>
<text transform="translate(1096.73,564.04) rotate(0.03) scale(1.005,1.039)" font-size="16.38" fill="#4f76a5" stroke="#4f76a5" stroke-width="0.06" font-weight="normal" >5</text>
<text transform="translate(1104.96,561.43) rotate(0.03) scale(1.169,0.783)" font-size="16.38" fill="#4f76a5" stroke="#4f76a5" stroke-width="0.16" font-weight="normal" >0</text>
<text transform="translate(1114.53,561.34) rotate(0.03) scale(0.933,1.018)" font-size="16.38" fill="#4f76a5" stroke="#4f76a5" stroke-width="0.06" font-weight="normal" >%</text>
<text transform="translate(963.33,638.20) rotate(0.03)" font-size="16.38" fill="#4f76a5" font-weight="normal" textLength="34.94" lengthAdjust="spacingAndGlyphs" >Mar-</text>
<text transform="translate(998.27,638.20) rotate(0.03) scale(1.077,0.784)" font-size="16.38" fill="#4f76a5" stroke="#4f76a5" stroke-width="0.16" font-weight="normal" >2</text>
<text transform="translate(1007.08,638.23) rotate(0.03) scale(1.182,0.783)" font-size="16.38" fill="#4f76a5" stroke="#4f76a5" stroke-width="0.16" font-weight="normal" >0</text>
<text transform="translate(974.43,658.71) rotate(0.03) scale(1.080,1.049)" font-size="16.38" fill="#4f76a5" stroke="#4f76a5" stroke-width="0.06" font-weight="normal" >4</text>
<text transform="translate(983.27,655.93) rotate(0.03) scale(1.173,0.783)" font-size="16.38" fill="#4f76a5" stroke="#4f76a5" stroke-width="0.16" font-weight="normal" >0</text>
<text transform="translate(992.88,655.84) rotate(0.03) scale(0.937,1.018)" font-size="16.38" fill="#4f76a5" stroke="#4f76a5" stroke-width="0.06" font-weight="normal" >%</text>
<text transform="translate(1094.53,718.10) rotate(0.03)" font-size="16.38" fill="#4f76a5" font-weight="normal" textLength="30.06" lengthAdjust="spacingAndGlyphs" >Oct-</text>
<text transform="translate(1124.59,718.10) rotate(0.03) scale(1.070,0.784)" font-size="16.38" fill="#4f76a5" stroke="#4f76a5" stroke-width="0.16" font-weight="normal" >2</text>
<text transform="translate(1133.35,718.13) rotate(0.03) scale(1.175,0.783)" font-size="16.38" fill="#4f76a5" stroke="#4f76a5" stroke-width="0.16" font-weight="normal" >0</text>
<text transform="translate(1102.83,738.64) rotate(0.03) scale(1.045,1.028)" font-size="16.38" fill="#4f76a5" stroke="#4f76a5" stroke-width="0.06" font-weight="normal" >3</text>
<text transform="translate(1111.39,736.03) rotate(0.03) scale(1.162,0.783)" font-size="16.38" fill="#4f76a5" stroke="#4f76a5" stroke-width="0.16" font-weight="normal" >0</text>
<text transform="translate(1120.90,735.94) rotate(0.03) scale(0.928,1.018)" font-size="16.38" fill="#4f76a5" stroke="#4f76a5" stroke-width="0.06" font-weight="normal" >%</text>
<text transform="translate(963.93,783.80) rotate(0.03)" font-size="16.38" fill="#4f76a5" font-weight="normal" textLength="31.33" lengthAdjust="spacingAndGlyphs" >Feb-</text>
<text transform="translate(995.26,783.80) rotate(0.03) scale(1.060,0.784)" font-size="16.38" fill="#4f76a5" stroke="#4f76a5" stroke-width="0.16" font-weight="normal" >2</text>
<text transform="translate(1003.94,783.83) rotate(0.03) scale(1.164,0.783)" font-size="16.38" fill="#4f76a5" stroke="#4f76a5" stroke-width="0.16" font-weight="normal" >0</text>
<text transform="translate(973.03,801.80) rotate(0.03) scale(1.073,0.784)" font-size="16.38" fill="#4f76a5" stroke="#4f76a5" stroke-width="0.16" font-weight="normal" >2</text>
<text transform="translate(981.82,804.44) rotate(0.03) scale(1.014,1.039)" font-size="16.38" fill="#4f76a5" stroke="#4f76a5" stroke-width="0.06" font-weight="normal" >5</text>
<text transform="translate(990.12,801.74) rotate(0.03) scale(0.941,1.018)" font-size="16.38" fill="#4f76a5" stroke="#4f76a5" stroke-width="0.06" font-weight="normal" >%</text>
<text transform="translate(1094.43,918.70) rotate(0.03)" font-size="16.38" fill="#4f76a5" font-weight="normal" textLength="36.39" lengthAdjust="spacingAndGlyphs" >May-</text>
<text transform="translate(1130.82,918.70) rotate(0.03) scale(1.081,0.784)" font-size="16.38" fill="#4f76a5" stroke="#4f76a5" stroke-width="0.16" font-weight="normal" >2</text>
<text transform="translate(1139.06,918.70) rotate(0.03) scale(0.979,0.786)" font-size="16.38" fill="#4f76a5" stroke="#4f76a5" stroke-width="0.16" font-weight="normal" >1</text>
<text transform="translate(1105.03,936.50) rotate(0.03) scale(0.958,0.786)" font-size="16.38" fill="#4f76a5" stroke="#4f76a5" stroke-width="0.16" font-weight="normal" >1</text>
<text transform="translate(1112.28,936.53) rotate(0.03) scale(1.162,0.783)" font-size="16.38" fill="#4f76a5" stroke="#4f76a5" stroke-width="0.16" font-weight="normal" >0</text>
<text transform="translate(1121.80,936.44) rotate(0.03) scale(0.928,1.018)" font-size="16.38" fill="#4f76a5" stroke="#4f76a5" stroke-width="0.06" font-weight="normal" >%</text>
<text transform="translate(1223.63,874.80) rotate(0.03)" font-size="16.38" fill="#4f76a5" font-weight="normal" textLength="31.62" lengthAdjust="spacingAndGlyphs" >Feb-</text>
<text transform="translate(1255.25,874.80) rotate(0.03) scale(1.069,0.784)" font-size="16.38" fill="#4f76a5" stroke="#4f76a5" stroke-width="0.16" font-weight="normal" >2</text>
<text transform="translate(1264.01,874.80) rotate(0.03) scale(1.069,0.784)" font-size="16.38" fill="#4f76a5" stroke="#4f76a5" stroke-width="0.16" font-weight="normal" >2</text>
<text transform="translate(1232.73,893.40) rotate(0.03) scale(0.970,0.786)" font-size="16.38" fill="#4f76a5" stroke="#4f76a5" stroke-width="0.16" font-weight="normal" >1</text>
<text transform="translate(1240.06,896.04) rotate(0.03) scale(1.012,1.039)" font-size="16.38" fill="#4f76a5" stroke="#4f76a5" stroke-width="0.06" font-weight="normal" >5</text>
<text transform="translate(1248.35,893.34) rotate(0.03) scale(0.940,1.018)" font-size="16.38" fill="#4f76a5" stroke="#4f76a5" stroke-width="0.06" font-weight="normal" >%</text>
<text transform="translate(1260.43,395.80) rotate(0.03)" font-size="16.38" fill="#4f76a5" font-weight="normal" textLength="32.12" lengthAdjust="spacingAndGlyphs" >Dec-</text>
<text transform="translate(1292.55,395.80) rotate(0.03) scale(1.063,0.784)" font-size="16.38" fill="#4f76a5" stroke="#4f76a5" stroke-width="0.16" font-weight="normal" >2</text>
<text transform="translate(1301.26,395.80) rotate(0.03) scale(1.063,0.784)" font-size="16.38" fill="#4f76a5" stroke="#4f76a5" stroke-width="0.16" font-weight="normal" >2</text>
<text transform="translate(1269.53,413.49) rotate(0.03) scale(1.090,1.028)" font-size="16.38" fill="#4f76a5" stroke="#4f76a5" stroke-width="0.06" font-weight="normal" >6</text>
<text transform="translate(1278.46,416.14) rotate(0.03) scale(1.017,1.039)" font-size="16.38" fill="#4f76a5" stroke="#4f76a5" stroke-width="0.06" font-weight="normal" >5</text>
<text transform="translate(1286.78,413.44) rotate(0.03) scale(0.944,1.018)" font-size="16.38" fill="#4f76a5" stroke="#4f76a5" stroke-width="0.06" font-weight="normal" >%</text>
<text transform="translate(1360.13,395.80) rotate(0.03)" font-size="16.38" fill="#4f76a5" font-weight="normal" textLength="32.75" lengthAdjust="spacingAndGlyphs" >Jun-</text>
<text transform="translate(1392.89,395.80) rotate(0.03) scale(1.086,0.784)" font-size="16.38" fill="#4f76a5" stroke="#4f76a5" stroke-width="0.16" font-weight="normal" >2</text>
<text transform="translate(1401.78,398.44) rotate(0.03) scale(1.073,1.028)" font-size="16.38" fill="#4f76a5" stroke="#4f76a5" stroke-width="0.06" font-weight="normal" >3</text>
<text transform="translate(1370.43,413.49) rotate(0.03) scale(1.093,1.028)" font-size="16.38" fill="#4f76a5" stroke="#4f76a5" stroke-width="0.06" font-weight="normal" >6</text>
<text transform="translate(1379.39,416.14) rotate(0.03) scale(1.020,1.039)" font-size="16.38" fill="#4f76a5" stroke="#4f76a5" stroke-width="0.06" font-weight="normal" >5</text>
<text transform="translate(1387.74,413.44) rotate(0.03) scale(0.947,1.018)" font-size="16.38" fill="#4f76a5" stroke="#4f76a5" stroke-width="0.06" font-weight="normal" >%</text>
<text transform="translate(1283.83,572.00) rotate(0.03)" font-size="16.38" fill="#4f76a5" font-weight="normal" textLength="31.27" lengthAdjust="spacingAndGlyphs" >Sep-</text>
<text transform="translate(1315.10,572.00) rotate(0.03) scale(1.072,0.784)" font-size="16.38" fill="#4f76a5" stroke="#4f76a5" stroke-width="0.16" font-weight="normal" >2</text>
<text transform="translate(1323.88,572.00) rotate(0.03) scale(1.072,0.784)" font-size="16.38" fill="#4f76a5" stroke="#4f76a5" stroke-width="0.16" font-weight="normal" >2</text>
<text transform="translate(1292.53,592.54) rotate(0.03) scale(1.018,1.039)" font-size="16.38" fill="#4f76a5" stroke="#4f76a5" stroke-width="0.06" font-weight="normal" >5</text>
<text transform="translate(1300.87,589.93) rotate(0.03) scale(1.184,0.783)" font-size="16.38" fill="#4f76a5" stroke="#4f76a5" stroke-width="0.16" font-weight="normal" >0</text>
<text transform="translate(1310.57,589.84) rotate(0.03) scale(0.946,1.018)" font-size="16.38" fill="#4f76a5" stroke="#4f76a5" stroke-width="0.06" font-weight="normal" >%</text>
<text transform="translate(1396.73,614.70) rotate(0.03)" font-size="16.38" fill="#4f76a5" font-weight="normal" textLength="31.45" lengthAdjust="spacingAndGlyphs" >Jan-</text>
<text transform="translate(1428.18,614.70) rotate(0.03) scale(1.080,0.784)" font-size="16.38" fill="#4f76a5" stroke="#4f76a5" stroke-width="0.16" font-weight="normal" >2</text>
<text transform="translate(1437.03,617.51) rotate(0.03) scale(1.092,1.049)" font-size="16.38" fill="#4f76a5" stroke="#4f76a5" stroke-width="0.06" font-weight="normal" >4</text>
<text transform="translate(1405.73,635.61) rotate(0.03) scale(1.074,1.049)" font-size="16.38" fill="#4f76a5" stroke="#4f76a5" stroke-width="0.06" font-weight="normal" >4</text>
<text transform="translate(1414.53,635.44) rotate(0.03) scale(1.004,1.039)" font-size="16.38" fill="#4f76a5" stroke="#4f76a5" stroke-width="0.06" font-weight="normal" >5</text>
<text transform="translate(1422.75,632.74) rotate(0.03) scale(0.932,1.018)" font-size="16.38" fill="#4f76a5" stroke="#4f76a5" stroke-width="0.06" font-weight="normal" >%</text>
<text transform="translate(1262.33,695.70) rotate(0.03)" font-size="16.38" fill="#4f76a5" font-weight="normal" textLength="32.23" lengthAdjust="spacingAndGlyphs" >Jun-</text>
<text transform="translate(1294.56,695.70) rotate(0.03) scale(1.069,0.784)" font-size="16.38" fill="#4f76a5" stroke="#4f76a5" stroke-width="0.16" font-weight="normal" >2</text>
<text transform="translate(1303.31,695.70) rotate(0.03) scale(1.069,0.784)" font-size="16.38" fill="#4f76a5" stroke="#4f76a5" stroke-width="0.16" font-weight="normal" >2</text>
<text transform="translate(1271.93,716.44) rotate(0.03) scale(1.054,1.028)" font-size="16.38" fill="#4f76a5" stroke="#4f76a5" stroke-width="0.06" font-weight="normal" >3</text>
<text transform="translate(1280.56,716.44) rotate(0.03) scale(1.054,1.028)" font-size="16.38" fill="#4f76a5" stroke="#4f76a5" stroke-width="0.06" font-weight="normal" >3</text>
<text transform="translate(1289.19,713.74) rotate(0.03) scale(0.936,1.018)" font-size="16.38" fill="#4f76a5" stroke="#4f76a5" stroke-width="0.06" font-weight="normal" >%</text>
</svg>
</body></html>
